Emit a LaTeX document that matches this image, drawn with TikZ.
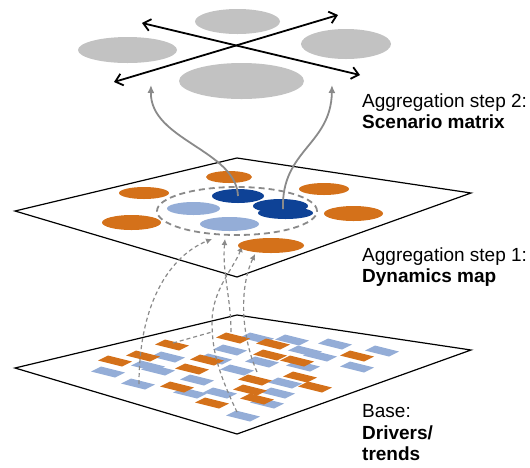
\documentclass[tikz,border=0pt]{standalone}
\usepackage{fontspec}
\setmainfont{Liberation Sans}
\usetikzlibrary{arrows.meta,shapes.geometric}

\definecolor{driverorange}{HTML}{D4711A}
\definecolor{paleblue}{HTML}{94ADD7}
\definecolor{deepblue}{HTML}{0E4296}
\definecolor{scengray}{HTML}{C2C2C2}
\definecolor{linkgray}{HTML}{8A8A8A}

\begin{document}
\begin{tikzpicture}[x=1pt,y=-1pt,
  plane/.style={draw=black, line width=1.2pt, line join=miter},
  blob/.style={ellipse, inner sep=0pt, outer sep=0pt, draw=none},
  scen/.style={blob, fill=scengray},
  dyn/.style={blob, fill=driverorange},
  dynpale/.style={blob, fill=paleblue},
  dyndeep/.style={blob, fill=deepblue},
  axisarrow/.style={line width=1.8pt, {Straight Barb[length=7pt,width=12pt]}-{Straight Barb[length=7pt,width=12pt]}},
  lift/.style={draw=linkgray, line width=1.8pt, -{Latex[length=8pt,width=7pt]}},
  feedline/.style={draw=linkgray, line width=1.2pt, dash pattern=on 4pt off 3pt},
  feed/.style={feedline, -{Latex[length=6pt,width=6pt]}},
  ring/.style={ellipse, draw=linkgray, line width=1.8pt, dash pattern=on 6pt off 4pt, inner sep=0pt},
  label/.style={anchor=north west, inner sep=0pt, align=left, font=\fontsize{19}{21.5}\selectfont}
]
\useasboundingbox (0,0) rectangle (530,467);

% ---------- base layer: drivers and trends ----------
\draw[plane] (15,368) coordinate (bL) -- (237,315) coordinate (bT) -- (471,350) coordinate (bR) -- (237,434) coordinate (bB) -- cycle;
% each driver is a small parallelogram lying in the plane
\foreach \x/\y in {108/372, 138/384, 148/366, 158/370, 168/357, 197/380, 190/393, 220/393,
                   215/359, 230/350, 257/338, 292/340, 305/351, 320/356, 335/344, 382/351,
                   357/367, 303/366, 262/362, 237/370, 285/383, 278/393, 267/403, 243/416}
  \fill[paleblue] (\x,\y) ++(17,0.5) -- ++(-10,5) -- ++(-24,-6) -- ++(10,-5) -- cycle;
\foreach \x/\y in {115/361, 143/356, 172/345, 207/360, 192/369, 233/338, 273/344, 270/355,
                   297/361, 357/356, 177/387, 255/380, 300/377, 315/387, 250/390, 257/399, 212/403}
  \fill[driverorange] (\x,\y) ++(17,0.5) -- ++(-10,5) -- ++(-24,-6) -- ++(10,-5) -- cycle;

% ---------- middle layer: dynamics map ----------
\draw[plane] (15,211) coordinate (mL) -- (237,158) coordinate (mT) -- (471,193) coordinate (mR) -- (237,277) coordinate (mB) -- cycle;

% drivers feeding the central cluster
\coordinate (d1) at (139,384);
\coordinate (d2) at (237,412);
\coordinate (d2b) at (173,343);
\coordinate (d3) at (231,332);
\coordinate (d4) at (257,372);
\coordinate (f1) at (212,239);
\coordinate (f2) at (242,246);
\coordinate (f3) at (225,239);
\coordinate (f4) at (255,254);
\draw[feed] (d1) .. controls (139,300) and (172,255) .. (f1);
\draw[feed] (d2) .. controls (218,372) and (212,350) .. (212,322) .. controls (212,290) and (234,268) .. (f2);
\draw[feedline] (d2b) -- (212,332);
\draw[feed] (d3) .. controls (231,298) and (222,272) .. (f3);
\draw[feed] (d4) .. controls (241,335) and (239,288) .. (f4);

\node[dyn, minimum width=46, minimum height=12] (o1) at (229,177) {};
\node[dyn, minimum width=50, minimum height=12] (o2) at (144,193) {};
\node[dyn, minimum width=59, minimum height=15] (o3) at (131.5,222.5) {};
\node[dyn, minimum width=50, minimum height=12] (o4) at (324,189) {};
\node[dyn, minimum width=59, minimum height=15] (o5) at (353.5,213.5) {};
\node[dyn, minimum width=66, minimum height=15] (o6) at (271,245.5) {};

\node[dynpale, minimum width=53, minimum height=13] (p1) at (193.5,208.5) {};
\node[dynpale, minimum width=59, minimum height=14] (p2) at (229.5,224) {};

\node[dyndeep, minimum width=52, minimum height=14] (k1) at (238,196) {};
\node[dyndeep, minimum width=55, minimum height=14] (k2) at (280.5,206) {};
\node[dyndeep, minimum width=55, minimum height=12] (k3) at (285.5,213) {};

\node[ring, minimum width=160, minimum height=48] (cluster) at (237,211) {};

% ---------- top layer: scenario matrix ----------
\node[scen, minimum width=85, minimum height=25] (s1) at (237.5,21.5) {};
\node[scen, minimum width=99, minimum height=26] (s2) at (127.5,50) {};
\node[scen, minimum width=90, minimum height=30] (s3) at (346,44) {};
\node[scen, minimum width=125, minimum height=36] (s4) at (241.5,81) {};

\coordinate (a1s) at (142,23);
\coordinate (a1e) at (360,75);
\coordinate (a2s) at (114,82);
\coordinate (a2e) at (338,15);
\draw[axisarrow] (a1s) -- (a1e);
\draw[axisarrow] (a2s) -- (a2e);

% aggregation from the dynamics map up to the scenarios
\coordinate (u1) at (151,85);
\coordinate (u2) at (332,85);
\draw[lift] (k1.center) .. controls (236,150) and (150,140) .. (u1);
\draw[lift] (283,209) .. controls (281,150) and (331,145) .. (u2);

% ---------- labels ----------
\node[label] (lab2) at (362,93.4) {Aggregation step 2:\\\textbf{Scenario matrix}};
\node[label] (lab1) at (362,247.2) {Aggregation step 1:\\\textbf{Dynamics map}};
\node[label] (lab0) at (362,404.4) {Base:\\\textbf{Drivers/}\\\textbf{trends}};
\end{tikzpicture}
\end{document}
